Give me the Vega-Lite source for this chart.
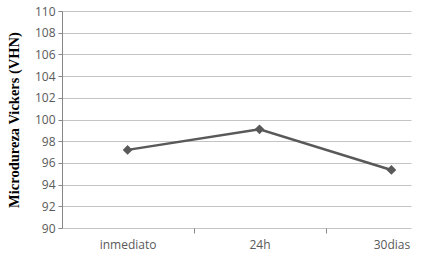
{
  "$schema": "https://vega.github.io/schema/vega-lite/v6.json",
  "autosize": "none",
  "width": 349,
  "height": 217,
  "padding": {"left": 62, "top": 11, "right": 22, "bottom": 32},
  "background": "white",
  "data": {"values": [
    {"tiempo": "inmediato", "vhn": 97.2},
    {"tiempo": "24h", "vhn": 99.1},
    {"tiempo": "30dias", "vhn": 95.35}
  ]},
  "config": {"view": {"stroke": null}},
  "encoding": {
    "x": {"field": "tiempo", "type": "nominal", "sort": null,
      "scale": {"type": "point", "padding": 0.323, "align": 0.77},
      "axis": {"title": null, "labelAngle": 0, "domain": false, "grid": false,
        "tickOffset": 66, "labelOffset": -66, "tickColor": "#868686", "tickSize": 5,
        "labelFont": "Open Sans", "labelFontSize": 12, "labelColor": "#595959", "labelPadding": 6}},
    "y": {"field": "vhn", "type": "quantitative",
      "scale": {"domain": [90, 110], "nice": false, "zero": false},
      "axis": {"title": "Microdureza Vickers (VHN)", "values": [90,92,94,96,98,100,102,104,106,108,110],
        "titleFont": "Liberation Serif", "titleFontSize": 14.5, "titleFontWeight": "bold", "titleColor": "#000000",
        "titlePadding": 13,
        "labelFont": "Open Sans", "labelFontSize": 12, "labelColor": "#595959", "labelPadding": 3,
        "domainColor": "#868686", "tickColor": "#868686", "tickSize": 4,
        "grid": true, "gridColor": "#c4c4c4", "gridWidth": 1}}
  },
  "layer": [
    {"mark": {"type": "line", "color": "#595959", "strokeWidth": 2.5}},
    {"mark": {"type": "point", "shape": "diamond", "filled": true, "color": "#595959", "size": 95, "opacity": 1}}
  ]
}
